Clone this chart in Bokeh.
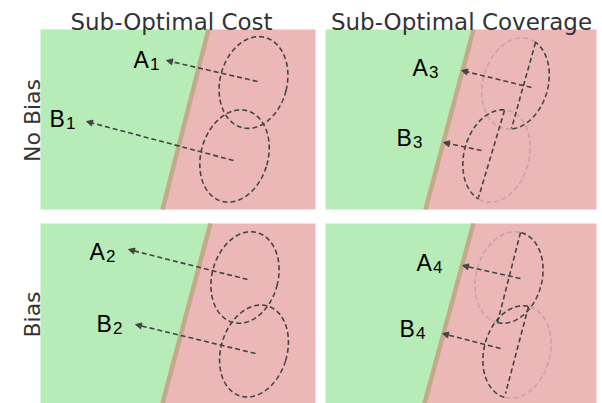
import numpy as np
from bokeh.plotting import figure
from bokeh.models import Range1d, ColumnDataSource, Arrow, NormalHead
from bokeh.core.properties import value
from bokeh.embed import file_html
from bokeh.resources import INLINE

# ---------------- data (reference pixel space, y grows downward) ----------------
panel_left = [40, 325, 40, 325]
panel_right = [315, 596, 315, 596]
panel_top = [29, 29, 223, 223]
panel_bottom = [209, 209, 403, 403]
boundary_top_x = [208, 473, 210, 473]
boundary_bottom_x = [162, 425, 162, 424]

col_titles = ["Sub-Optimal Cost", "Sub-Optimal Coverage"]
title_x = [171, 461]
title_y = [21, 21]
row_labels = ["No Bias", "Bias"]
row_label_x = [32, 32]
row_label_y = [120, 314]

# ellipses: centre, semi-minor, semi-major, tilt (deg, top leaning right), dark arc range (deg)
ell_cx = [253, 234, 515, 496, 244.5, 253.5, 508.5, 516.5]
ell_cy = [82, 155.5, 83, 155.5, 277, 350.5, 277, 351.5]
ell_a = [33.5, 33.5, 32.5, 32.5, 33, 33, 33, 33]
ell_b = [46.5, 47, 46.5, 47, 46.5, 47, 46.5, 47]
ell_tilt = [14, 16, 16, 15, 15, 17, 15, 15]
ell_dark_from = [0, 0, -73, 98, 0, 0, -89, 92]
ell_dark_to = [360, 360, 77, 259, 360, 360, 92, 271]

# principal-direction lines (coverage panels)
axis_x0 = [535, 504, 520, 528]
axis_y0 = [42, 110, 232, 306]
axis_x1 = [511, 478, 497, 505]
axis_y1 = [128, 197, 322, 393]

# arrows: start (ellipse centre) -> tip
arrow_x0 = [257, 233, 531, 481, 247, 255, 520, 500]
arrow_y0 = [81, 160, 87, 150, 279, 353, 278, 348]
arrow_x1 = [166, 86, 461, 443, 128, 135, 462, 442]
arrow_y1 = [60, 121, 70, 142, 249, 324, 265, 333]

# point labels: letter, subscript, left x, baseline y
label_letter = ["A", "B", "A", "B", "A", "B", "A", "B"]
label_sub = ["1", "1", "3", "3", "2", "2", "4", "4"]
label_x = [133, 49, 412, 396, 89, 96, 416, 399]
label_y = [59, 118, 67, 137, 251, 323, 262, 328]

# ---------------- style ----------------
GREEN = "#b7ebb7"
RED = "#ebb7b7"
TAN = "#c3aa8a"
DARK = "#444444"
FADED = "#7a7a7a"
DASH = "5 3"
SUB_DX, SUB_DY = 16.5, 4.5

p = figure(width=602, height=403, output_backend="svg", toolbar_location=None,
           x_range=Range1d(0, 602), y_range=Range1d(403, 0),
           min_border=0, min_border_left=0, min_border_right=0,
           min_border_top=0, min_border_bottom=0)
p.axis.visible = False
p.grid.visible = False
p.outline_line_color = None
p.background_fill_color = "white"
p.border_fill_color = "white"

# regions
gx, gy, rx, ry = [], [], [], []
for i in range(4):
    L, R, T, B = panel_left[i], panel_right[i], panel_top[i], panel_bottom[i]
    bt, bb = boundary_top_x[i], boundary_bottom_x[i]
    gx.append([L, bt, bb, L]); gy.append([T, T, B, B])
    rx.append([bt, R, R, bb]); ry.append([T, T, B, B])
p.patches(gx, gy, fill_color=GREEN, line_color=None)
p.patches(rx, ry, fill_color=RED, line_color=None)
p.segment(boundary_top_x, panel_top, boundary_bottom_x, panel_bottom,
          line_color=TAN, line_width=4.5)


def arc_pts(i, t0, t1):
    t = np.radians(np.linspace(t0, t1, max(int(abs(t1 - t0)), 2) + 1))
    th = np.radians(ell_tilt[i])
    u = ell_a[i] * np.cos(t)
    v = ell_b[i] * np.sin(t)
    x = ell_cx[i] + u * np.cos(th) + v * np.sin(th)
    y = ell_cy[i] + u * np.sin(th) - v * np.cos(th)
    return list(x), list(y)


fx, fy, dx, dy = [], [], [], []
for i in range(len(ell_cx)):
    d0, d1 = ell_dark_from[i], ell_dark_to[i]
    x, y = arc_pts(i, d0, d1)
    dx.append(x); dy.append(y)
    if d1 - d0 < 360:
        x, y = arc_pts(i, d1, d0 + 360)
        fx.append(x); fy.append(y)
p.multi_line(fx, fy, line_color=FADED, line_alpha=0.32, line_width=1.6, line_dash=DASH)
p.multi_line(dx, dy, line_color=DARK, line_width=1.6, line_dash=DASH)
p.segment(axis_x0, axis_y0, axis_x1, axis_y1, line_color=DARK, line_width=1.6, line_dash=DASH)

src = ColumnDataSource(dict(x0=arrow_x0, y0=arrow_y0, x1=arrow_x1, y1=arrow_y1))
p.add_layout(Arrow(source=src, x_start="x0", y_start="y0", x_end="x1", y_end="y1",
                   line_color=DARK, line_width=1.6, line_dash=DASH,
                   end=NormalHead(size=6, fill_color=DARK, line_color=DARK, line_width=1)))

# labels
p.text(label_x, label_y, text=label_letter, text_font=value("Liberation Sans"),
       text_font_size="23px", text_color="#000000",
       text_align="left", text_baseline="alphabetic")
p.text([x + SUB_DX for x in label_x], [y + SUB_DY for y in label_y], text=label_sub,
       text_font=value("Liberation Sans"), text_font_size="17px", text_color="#000000",
       text_align="left", text_baseline="alphabetic")

# titles and row labels
p.text(title_x, title_y, text=col_titles, text_font=value("DejaVu Sans"),
       text_font_size="23px", text_color="#333333",
       text_align="center", text_baseline="alphabetic")
p.text(row_label_x, row_label_y, text=row_labels, text_font=value("DejaVu Sans"),
       text_font_size="22px", text_color="#333333", angle=np.pi / 2,
       text_align="center", text_baseline="alphabetic")

open("out.html", "w").write(file_html(p, INLINE))
